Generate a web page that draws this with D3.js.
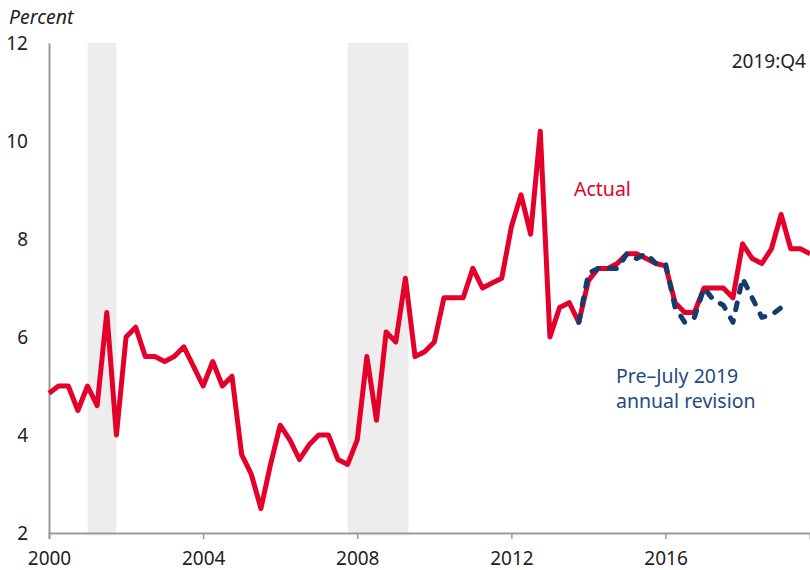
<!DOCTYPE html>
<html>
<head>
<meta charset="utf-8">
<script src="https://cdn.jsdelivr.net/npm/d3@7"></script>
<style>
  body { margin: 0; background: #fff; }
  text { font-family: "Noto Sans", sans-serif; }
</style>
</head>
<body>
<script>
// quarterly series, 2000:Q1 .. 2019:Q4
var startYear = 2000;
var actual = [4.85, 5.0, 5.0, 4.5, 5.0, 4.6, 6.5, 4.0,
  6.0, 6.2, 5.6, 5.6, 5.5, 5.6, 5.8, 5.4,
  5.0, 5.5, 5.0, 5.2, 3.6, 3.2, 2.5, 3.4,
  4.2, 3.9, 3.5, 3.8, 4.0, 4.0, 3.5, 3.4,
  3.9, 5.6, 4.3, 6.1, 5.9, 7.2, 5.6, 5.7,
  5.9, 6.8, 6.8, 6.8, 7.4, 7.0, 7.1, 7.2,
  8.25, 8.9, 8.1, 10.2, 6.0, 6.6, 6.7, 6.3,
  7.15, 7.4, 7.4, 7.5, 7.7, 7.7, 7.6, 7.5,
  7.45, 6.7, 6.5, 6.5, 7.0, 7.0, 7.0, 6.8,
  7.9, 7.6, 7.5, 7.8, 8.5, 7.8, 7.8, 7.7];
// pre-July 2019 vintage, starts at 2013:Q4 (index 55)
var revStart = 55;
var preRevision = [6.3, 7.3, 7.4, 7.4, 7.4, 7.7, 7.6, 7.7,
  7.5, 7.5, 6.6, 6.3, 6.4, 7.0, 6.75, 6.65,
  6.3, 7.2, 6.8, 6.4, 6.45, 6.6];
var recessions = [[2001.0, 2001.75], [2007.75, 2009.33]];
var yTicks = [2, 4, 6, 8, 10, 12];
var xTicks = [2000, 2004, 2008, 2012, 2016];

var width = 810, height = 570;
var margin = {left: 49, right: 0, top: 43, bottom: 37};

var svg = d3.select("body").append("svg")
  .attr("width", width).attr("height", height);

var x = d3.scaleLinear().domain([2000, 2019.75]).range([margin.left, width - margin.right]);
var y = d3.scaleLinear().domain([2, 12]).range([height - margin.bottom, margin.top]);

// recession bars
svg.append("g").selectAll("rect")
  .data(recessions)
  .enter().append("rect")
  .attr("x", function(d){ return x(d[0]); })
  .attr("y", y(12))
  .attr("width", function(d){ return x(d[1]) - x(d[0]); })
  .attr("height", y(2) - y(12))
  .style("fill", "#ededed");

// axes
var xAxis = svg.append("g")
  .attr("transform", "translate(0," + y(2) + ")")
  .call(d3.axisBottom(x).tickValues(xTicks).tickFormat(d3.format("d")).tickSize(6).tickPadding(13));
xAxis.select(".domain").attr("stroke", "#9a9a9a").attr("stroke-width", 2);
xAxis.selectAll(".tick line").attr("stroke", "#9a9a9a").attr("stroke-width", 1.5);
xAxis.selectAll(".tick text").attr("font-size", 19).attr("fill", "#222")
  .style("font-family", "'Noto Sans', sans-serif");

var yAxis = svg.append("g")
  .attr("transform", "translate(" + x(2000) + ",0)")
  .call(d3.axisLeft(y).tickValues(yTicks).tickSize(0).tickPadding(21));
yAxis.select(".domain").attr("stroke", "#9a9a9a").attr("stroke-width", 2);
yAxis.selectAll(".tick text").attr("font-size", 19).attr("fill", "#222")
  .style("font-family", "'Noto Sans', sans-serif");

svg.append("text")
  .attr("x", 9).attr("y", 24)
  .attr("font-size", 19.5).attr("font-style", "italic").attr("fill", "#222")
  .text("Percent");

// lines
var line = d3.line()
  .x(function(d){ return x(d.t); })
  .y(function(d){ return y(d.v); });

var actualPts = actual.map(function(v, i){ return {t: startYear + i / 4, v: v}; });
var revPts = preRevision.map(function(v, i){ return {t: startYear + (revStart + i) / 4, v: v}; });

svg.append("path")
  .datum(actualPts)
  .attr("d", line)
  .style("fill", "none")
  .style("stroke", "#e4002b")
  .style("stroke-width", 5)
  .style("stroke-linejoin", "round");

svg.append("path")
  .datum(revPts)
  .attr("d", line)
  .style("fill", "none")
  .style("stroke", "#143d6e")
  .style("stroke-width", 5)
  .style("stroke-dasharray", "7,11")
  .style("stroke-linecap", "round")
  .style("stroke-linejoin", "round");

// labels
svg.append("text").attr("x", 574).attr("y", 196)
  .attr("font-size", 19.5).attr("fill", "#e4002b").text("Actual");
svg.append("text").attr("x", 616).attr("y", 383)
  .attr("font-size", 19.5).attr("fill", "#1f4a80").text("Pre\u2013July 2019");
svg.append("text").attr("x", 616).attr("y", 408)
  .attr("font-size", 19.5).attr("fill", "#1f4a80").text("annual revision");
svg.append("text").attr("x", 806).attr("y", 68)
  .attr("text-anchor", "end")
  .attr("font-size", 19).attr("fill", "#222").text("2019:Q4");
</script>
</body>
</html>
